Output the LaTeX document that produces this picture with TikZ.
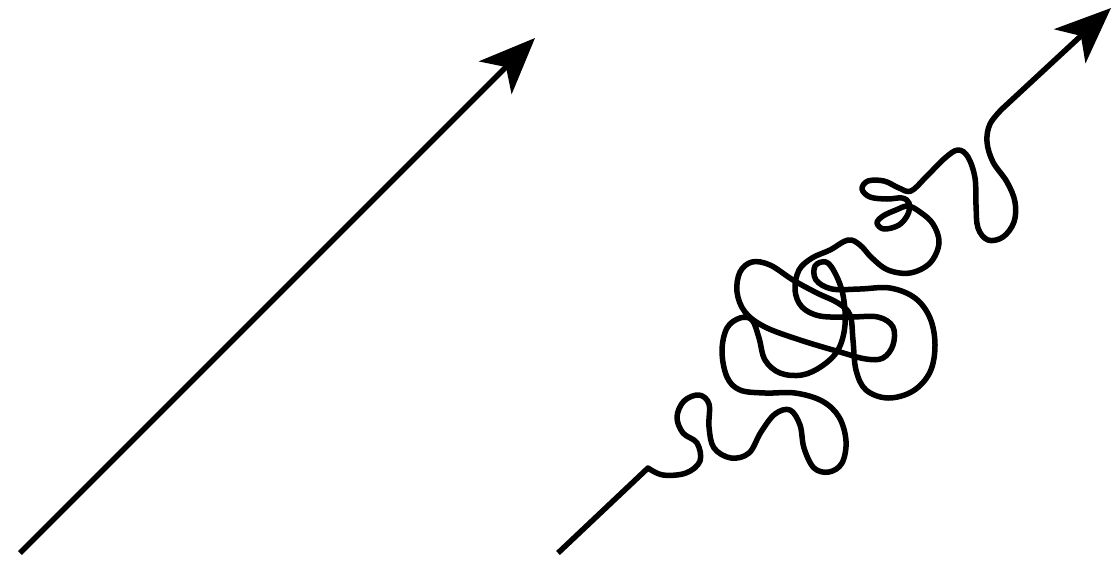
\documentclass[tikz,border=0pt]{standalone}
\usetikzlibrary{arrows.meta}
\begin{document}
\begin{tikzpicture}[x=1pt,y=-1pt,
  wire/.style={line width=5.5pt, line join=round, -{Stealth[length=56pt,width=46pt,inset=15pt]}}]
\useasboundingbox (0,0) rectangle (1114,563);
\coordinate (s1) at (20,553);
\coordinate (e1) at (535,38);
\coordinate (s2) at (558,553);
\coordinate (k2) at (648,468);
\coordinate (e2) at (1111,8);
\draw[wire] (s1) -- (e1);
\draw[wire] (s2) -- (k2) -- plot[smooth, tension=0.6] coordinates {
(648,468) (663,475) (686,473) (700,461) (697,443) (683,433) (677,417) (684,401) (699,395) (709,404) (709,427) (714,448) (731,458) (749,453) (761,432) (775,414) (790,410) (800,425) (804,448) (814,468) (829,472) (842,463) (846,441) (839,417) (822,401) (795,393) (765,393) (740,390) (727,377) (722,351) (727,328) (740,318) (752,320) (759,338) (765,360) (780,373) (802,375) (822,366) (838,350)
(845,325) (843,295) (835,273) (826,262) (815,266) (816,280) (832,289) (860,289) (890,288) (915,298) (930,318) (935,345) (930,372) (913,391) (888,398) (866,390) (856,370) (853,340) (850,315) (838,303) (817,293) (793,280) (770,265) (752,262) (740,272) (737,292) (745,312) (765,327) (800,340) (840,352) (866,359) (883,358) (893,345) (893,327) (878,317) (850,317) (820,316) (802,307) (795,290) (799,270) (812,258) (830,250) (848,240) (860,245) (872,258) (888,270) (910,273) (930,263) (939,243) (933,224) (920,212)
(908,206) (896,210) (883,216) (877,223) (884,229) (899,225) (908,214) (909,203) (902,198) (887,199) (870,197) (862,189) (868,181) (884,181) (899,188) (911,191) (926,177) (945,158) (958,150) (968,157) (975,178) (976,205) (978,228) (988,240) (1003,237) (1014,222) (1015,202) (1007,182) (993,162) (987,142) (990,124) (1002,109)
} -- (e2);
\end{tikzpicture}
\end{document}
